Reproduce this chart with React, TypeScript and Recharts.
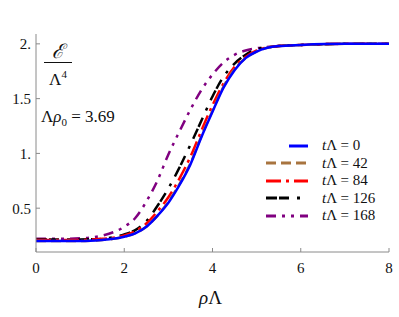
import { LineChart, Line, XAxis, YAxis } from 'recharts';

const RHO = [0, 0.5, 1, 1.5, 1.75, 2, 2.25, 2.5, 2.75, 3, 3.25, 3.5, 3.75, 4, 4.25, 4.5, 4.75, 5, 5.5, 6, 7, 8];

const T0 = [0.2, 0.2, 0.2, 0.21, 0.22, 0.24, 0.27, 0.33, 0.43, 0.55, 0.71, 0.9, 1.15, 1.38, 1.6, 1.76, 1.87, 1.93, 1.98, 1.99, 2.0, 2.0];
const T42 = [0.2, 0.2, 0.2, 0.21, 0.22, 0.24, 0.27, 0.33, 0.43, 0.56, 0.72, 0.91, 1.16, 1.39, 1.61, 1.77, 1.87, 1.93, 1.98, 1.99, 2.0, 2.0];
const T84 = [0.21, 0.21, 0.21, 0.22, 0.23, 0.25, 0.29, 0.36, 0.47, 0.6, 0.77, 0.97, 1.21, 1.44, 1.64, 1.79, 1.88, 1.94, 1.98, 1.99, 2.0, 2.0];
const T126 = [0.215, 0.215, 0.215, 0.22, 0.235, 0.26, 0.3, 0.38, 0.52, 0.68, 0.87, 1.08, 1.3, 1.52, 1.7, 1.82, 1.9, 1.95, 1.98, 1.99, 2.0, 2.0];
const T168 = [0.22, 0.22, 0.225, 0.25, 0.28, 0.33, 0.41, 0.56, 0.75, 0.99, 1.2, 1.4, 1.58, 1.72, 1.83, 1.9, 1.94, 1.96, 1.98, 1.99, 2.0, 2.0];

const X_TICKS = [0, 2, 4, 6, 8];
const Y_TICKS = [0.5, 1, 1.5, 2];
const Y_LABELS = ['0.5', '1.', '1.5', '2.'];

const SERIES = [
  { key: 't0', label: '0', color: '#0000ff', dash: undefined, short: true },
  { key: 't42', label: '42', color: '#a8743f', dash: '10 5' },
  { key: 't84', label: '84', color: '#ff0000', dash: '15 5 3 5' },
  { key: 't126', label: '126', color: '#000000', dash: '11 2 10 8 3 8' },
  { key: 't168', label: '168', color: '#800080', dash: '10 6 3 6 3 6' },
];

const data = RHO.map((x, i) => ({
  x,
  t0: T0[i],
  t42: T42[i],
  t84: T84[i],
  t126: T126[i],
  t168: T168[i],
}));

const FONT = '"Liberation Serif", "DejaVu Serif", serif';
const AXIS = '#8a8a8a';

function LegendBox() {
  return (
    <div style={{ position: 'absolute', left: 264, top: 137, fontFamily: FONT, fontSize: 15, color: '#111' }}>
      {SERIES.map((s) => (
        <div key={s.key} style={{ display: 'flex', alignItems: 'center', height: 17.5 }}>
          <svg width={46} height={10} style={{ marginRight: 12 }}>
            <line
              x1={s.short ? 25 : 2}
              x2={44}
              y1={5}
              y2={5}
              stroke={s.color}
              strokeWidth={3}
              strokeDasharray={s.dash}
            />
          </svg>
          <span style={{ whiteSpace: 'nowrap' }}>
            <i>t</i>Λ = {s.label}
          </span>
        </div>
      ))}
    </div>
  );
}

export default function App() {
  return (
    <div style={{ position: 'fixed', left: 0, top: 0, width: 399, height: 317, background: '#fff', fontFamily: FONT, color: '#111' }}>
      <LineChart width={399} height={317} data={data} margin={{ top: 34, right: 10, bottom: 35, left: 0 }}>
        <XAxis
          dataKey="x"
          type="number"
          domain={[0, 8]}
          ticks={X_TICKS}
          stroke={AXIS}
          tickSize={-4}
          tickMargin={14}
          height={30}
          tick={{ fill: '#111', fontSize: 15, fontFamily: FONT }}
        />
        <XAxis xAxisId="top" orientation="top" dataKey="x" type="number" domain={[0, 8]} tick={false} stroke={AXIS} height={0} />
        <YAxis
          type="number"
          domain={[0.1, 2.09]}
          ticks={Y_TICKS}
          tickFormatter={(v: number) => Y_LABELS[Y_TICKS.indexOf(v)]}
          stroke={AXIS}
          tickSize={-4}
          tickMargin={9}
          width={36}
          tick={{ fill: '#111', fontSize: 15, fontFamily: FONT }}
        />
        <YAxis yAxisId="right" orientation="right" domain={[0.1, 2.09]} tick={false} stroke={AXIS} width={0} />
        {SERIES.slice().reverse().map((s) => (
          <Line
            key={s.key}
            dataKey={s.key}
            type="monotone"
            stroke={s.color}
            strokeWidth={2.5}
            strokeDasharray={s.dash}
            dot={false}
            isAnimationActive={false}
          />
        ))}
      </LineChart>
      <LegendBox />
      <div style={{ position: 'absolute', left: 44, top: 40, width: 28, textAlign: 'center', fontSize: 20, lineHeight: '22px' }}>
        <div style={{ fontStyle: 'italic' }}>ℰ</div>
        <div style={{ borderTop: '1.2px solid #111', fontSize: 17 }}>
          Λ<sup style={{ fontSize: 11 }}>4</sup>
        </div>
      </div>
      <div style={{ position: 'absolute', left: 41, top: 107, fontSize: 17, whiteSpace: 'nowrap' }}>
        Λ<i>ρ</i>
        <sub style={{ fontSize: 11 }}>0</sub> = 3.69
      </div>
      <div style={{ position: 'absolute', left: 199, top: 287, fontSize: 19 }}>
        <i>ρ</i>Λ
      </div>
    </div>
  );
}
